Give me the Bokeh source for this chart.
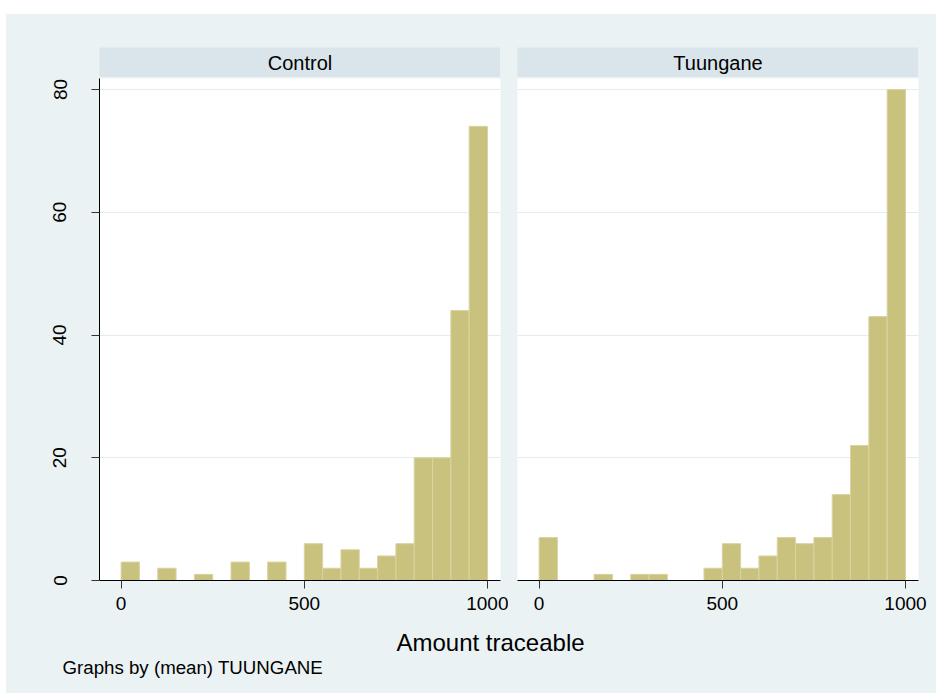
from bokeh.plotting import figure
from bokeh.models import Range1d, FixedTicker, Grid, Label, Spacer, ColumnDataSource
from bokeh.layouts import row, column
from bokeh.embed import file_html
from bokeh.resources import INLINE

# ---------------- data ----------------
bin_width = 50
bin_starts = [0, 50, 100, 150, 200, 250, 300, 350, 400, 450,
              500, 550, 600, 650, 700, 750, 800, 850, 900, 950]
control_counts = [3, 0, 2, 0, 1, 0, 3, 0, 3, 0,
                  6, 2, 5, 2, 4, 6, 20, 20, 44, 74]
tuungane_counts = [7, 0, 0, 1, 0, 1, 1, 0, 0, 2,
                   6, 2, 4, 7, 6, 7, 14, 22, 43, 80]
panel_titles = ["Control", "Tuungane"]
x_ticks = [0, 500, 1000]
y_ticks = [0, 20, 40, 60, 80]
x_title = "Amount traceable"
note_text = "Graphs by (mean) TUUNGANE"

# ---------------- style ----------------
BG = "#EAF2F3"
HDR = "#D9E5EB"
BAR = "#C9C27F"
BAR_EDGE = "#D9D3A1"
GRID = "#E4ECF0"
FONT = "Liberation Sans"

X_RANGE = (-59, 1035.5)
Y_RANGE = (0, 81.8)


def make_source(counts):
    l, r, t = [], [], []
    for s, c in zip(bin_starts, counts):
        if c > 0:
            l.append(s)
            r.append(s + bin_width)
            t.append(c)
    return ColumnDataSource(dict(left=l, right=r, top=t))


def make_panel(counts, with_yaxis, mb_left, mb_right):
    kw = dict(output_backend="svg", toolbar_location=None,
              frame_width=401, frame_height=502,
              width=mb_left + 401 + mb_right, height=542,
              min_border_left=mb_left, min_border_right=mb_right,
              min_border_top=0, min_border_bottom=40,
              x_range=Range1d(*X_RANGE), y_range=Range1d(*Y_RANGE))
    if not with_yaxis:
        kw["y_axis_location"] = None
    p = figure(**kw)
    p.background_fill_color = "white"
    p.border_fill_color = BG
    p.outline_line_color = None
    p.xgrid.visible = False

    src = make_source(counts)
    p.quad(left="left", right="right", bottom=0, top="top", source=src,
           fill_color=BAR, line_color=BAR_EDGE, line_width=1)

    xa = p.xaxis[0]
    xa.ticker = FixedTicker(ticks=x_ticks)
    xa.major_tick_out = 8
    xa.major_tick_in = 0
    xa.minor_tick_out = 0
    xa.minor_tick_in = 0
    xa.axis_line_color = "black"
    xa.major_tick_line_color = "#333333"
    xa.major_label_text_font = FONT
    xa.major_label_text_font_size = "19px"
    xa.major_label_text_color = "black"
    xa.major_label_standoff = 8

    if with_yaxis:
        ya = p.yaxis[0]
        ya.ticker = FixedTicker(ticks=y_ticks)
        ya.major_tick_out = 8
        ya.major_tick_in = 0
        ya.minor_tick_out = 0
        ya.minor_tick_in = 0
        ya.axis_line_color = "black"
        ya.major_tick_line_color = "#333333"
        ya.major_label_orientation = "vertical"
        ya.major_label_text_font = FONT
        ya.major_label_text_font_size = "19px"
        ya.major_label_text_color = "black"
        ya.major_label_standoff = 25
        p.ygrid.ticker = FixedTicker(ticks=y_ticks)
        p.ygrid.grid_line_color = GRID
        p.ygrid.grid_line_width = 1
    else:
        g = Grid(dimension=1, ticker=FixedTicker(ticks=y_ticks),
                 grid_line_color=GRID, grid_line_width=1)
        p.add_layout(g)
    return p


def make_header(text):
    h = figure(output_backend="svg", toolbar_location=None,
               width=401, height=30, min_border=0,
               x_axis_type=None, y_axis_type=None,
               x_range=Range1d(0, 1), y_range=Range1d(0, 1))
    h.background_fill_color = HDR
    h.border_fill_color = HDR
    h.outline_line_color = None
    h.grid.visible = False
    h.add_layout(Label(x=200.5, y=15, x_units="screen", y_units="screen",
                       text=text, text_align="center", text_baseline="middle",
                       text_font=FONT, text_font_size="20px",
                       text_color="black"))
    return h


p1 = make_panel(control_counts, True, 93, 8)
p2 = make_panel(tuungane_counts, False, 9, 18)
h1 = make_header(panel_titles[0])
h2 = make_header(panel_titles[1])

pb = figure(output_backend="svg", toolbar_location=None,
            width=930, height=73, min_border=0,
            x_axis_type=None, y_axis_type=None,
            x_range=Range1d(0, 1), y_range=Range1d(0, 1))
pb.background_fill_color = BG
pb.border_fill_color = BG
pb.outline_line_color = None
pb.grid.visible = False
pb.add_layout(Label(x=484, y=51, x_units="screen", y_units="screen",
                    text=x_title, text_align="center", text_baseline="middle",
                    text_font=FONT, text_font_size="24px", text_color="black"))
pb.add_layout(Label(x=56, y=26, x_units="screen", y_units="screen",
                    text=note_text, text_align="left", text_baseline="middle",
                    text_font=FONT, text_font_size="18.7px", text_color="black"))

left_col = column(Spacer(height=33, width=502),
                  row(Spacer(width=93, height=30), h1, Spacer(width=8, height=30)),
                  Spacer(height=1, width=502), p1)
right_col = column(Spacer(height=33, width=428),
                   row(Spacer(width=9, height=30), h2, Spacer(width=18, height=30)),
                   Spacer(height=1, width=428), p2)
body = column(row(left_col, right_col), pb, styles={"background-color": BG})
root = column(Spacer(height=14, width=936),
              row(Spacer(width=6, height=679), body))

open("out.html", "w").write(file_html(root, INLINE))
